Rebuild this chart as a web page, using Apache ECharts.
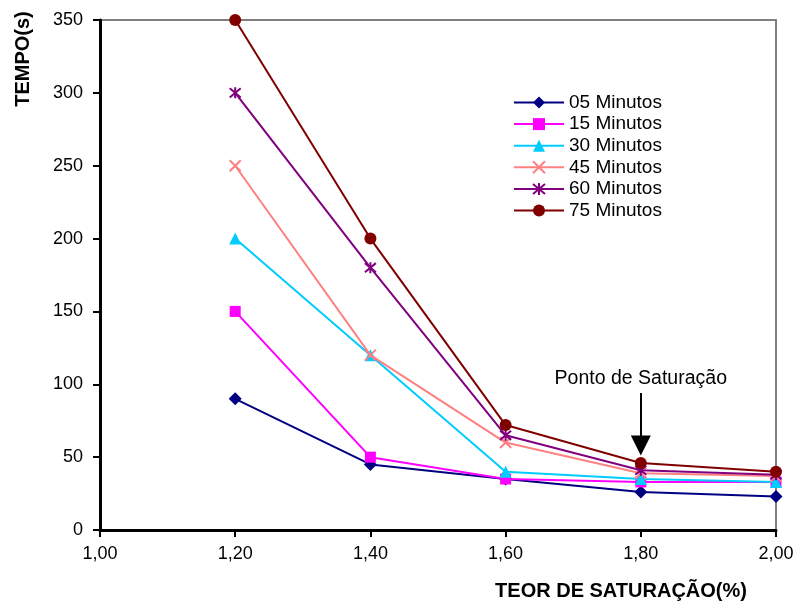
<!DOCTYPE html>
<html>
<head>
<meta charset="utf-8">
<script src="https://cdn.jsdelivr.net/npm/echarts@6/dist/echarts.min.js"></script>
<style>html,body{margin:0;padding:0;background:#fff}#c{width:798px;height:607px}</style>
</head>
<body>
<div id="c"></div>
<script>
var xValues = [1.2, 1.4, 1.6, 1.8, 2.0];
var seriesNames = ['05 Minutos', '15 Minutos', '30 Minutos', '45 Minutos', '60 Minutos', '75 Minutos'];
var s05 = [90, 45, 35, 26, 23];
var s15 = [150, 50, 35, 33, 33];
var s30 = [200, 120, 40, 35, 33];
var s45 = [250, 120, 60, 39, 37];
var s60 = [300, 180, 65, 41, 38];
var s75 = [350, 200, 72, 46, 40];
var yTicks = [0, 50, 100, 150, 200, 250, 300, 350];
var xTicks = [1.0, 1.2, 1.4, 1.6, 1.8, 2.0];
var annotationText = 'Ponto de Saturação';
var annotationX = 1.8, annotationTop = 94, annotationBottom = 58, annotationLabelY = 104;

var FONT = '"Liberation Sans", Arial, sans-serif';
var chart = echarts.init(document.getElementById('c'));

function pairs(vals) { return vals.map(function (v, i) { return [xValues[i], v]; }); }

var styles = [
  { color: '#000080', symbol: 'diamond', size: 13 },
  { color: '#FF00FF', symbol: 'rect', size: 11 },
  { color: '#00CCFF', symbol: 'triangle', size: 12 },
  { color: '#FF8080', symbol: 'path://M0,0L10,10M10,0L0,10', size: 11, stroke: true },
  { color: '#800080', symbol: 'path://M0,0L10,10M10,0L0,10M5,-1L5,11', size: 11, stroke: true },
  { color: '#800000', symbol: 'circle', size: 12 }
];
var allData = [s05, s15, s30, s45, s60, s75];

var series = allData.map(function (d, i) {
  var st = styles[i];
  return {
    name: seriesNames[i],
    type: 'line',
    data: pairs(d),
    symbol: st.symbol,
    symbolSize: st.size,
    showAllSymbol: true,
    lineStyle: { color: st.color, width: 2 },
    itemStyle: st.stroke ? { color: st.color, borderColor: st.color, borderWidth: 2 } : { color: st.color, borderWidth: 0 },
    emphasis: { disabled: true },
    animation: false,
    z: 3 + i
  };
});

series.push({
  type: 'line',
  data: [],
  silent: true,
  animation: false,
  markLine: {
    silent: true,
    animation: false,
    symbol: ['none', 'triangle'],
    symbolSize: [20, 20],
    lineStyle: { color: '#000', width: 2, type: 'solid' },
    label: { show: false },
    data: [[{ coord: [annotationX, annotationTop] }, { coord: [annotationX, annotationBottom] }]]
  },
  markPoint: {
    silent: true,
    animation: false,
    symbol: 'circle',
    symbolSize: 0,
    label: { show: true, position: 'inside', formatter: annotationText, color: '#000', fontSize: 19.5, fontFamily: FONT },
    data: [{ coord: [annotationX, annotationLabelY] }]
  }
});

chart.setOption({
  animation: false,
  backgroundColor: '#fff',
  grid: { left: 100, right: 22, top: 20, bottom: 77, show: true, borderColor: '#808080', borderWidth: 2, backgroundColor: 'transparent' },
  legend: {
    orient: 'vertical',
    left: 508,
    top: 88,
    itemWidth: 50,
    itemHeight: 15,
    itemGap: 2.6,
    data: seriesNames,
    textStyle: { fontSize: 19, fontFamily: FONT, color: '#000', lineHeight: 19, padding: [0, 0, 0, 0] },
    selectedMode: false
  },
  xAxis: {
    type: 'value',
    min: xTicks[0],
    max: xTicks[xTicks.length - 1],
    interval: 0.2,
    axisLine: { show: true, onZero: false, lineStyle: { color: '#000', width: 3 } },
    axisTick: { show: true, length: 7, lineStyle: { color: '#000', width: 2 } },
    splitLine: { show: false },
    axisLabel: {
      margin: 15, fontSize: 18, fontFamily: FONT, color: '#000',
      formatter: function (v) { return v.toFixed(2).replace('.', ','); }
    }
  },
  yAxis: {
    type: 'value',
    min: yTicks[0],
    max: yTicks[yTicks.length - 1],
    interval: 50,
    axisLine: { show: true, lineStyle: { color: '#000', width: 3 } },
    axisTick: { show: true, length: 7, lineStyle: { color: '#000', width: 2 } },
    splitLine: { show: false },
    axisLabel: { margin: 17, fontSize: 18, fontFamily: FONT, color: '#000' }
  },
  graphic: [
    {
      type: 'text', x: 23, y: 59, rotation: Math.PI / 2,
      style: { text: 'TEMPO(s)', font: 'bold 20px ' + FONT, fill: '#000', align: 'center', verticalAlign: 'middle' }
    },
    {
      type: 'text', x: 621, y: 591,
      style: { text: 'TEOR DE SATURAÇÃO(%)', font: 'bold 20px ' + FONT, fill: '#000', align: 'center', verticalAlign: 'middle' }
    }
  ],
  series: series
});
</script>
</body>
</html>
